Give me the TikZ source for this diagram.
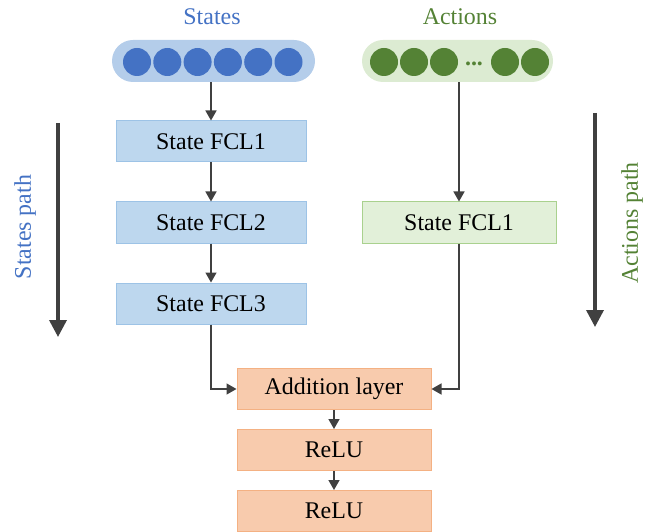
\documentclass[tikz,border=0pt]{standalone}
\usepackage{fontspec}
\setmainfont{Liberation Serif}
\usetikzlibrary{arrows.meta}
\definecolor{stblue}{HTML}{4472C4}
\definecolor{stpill}{HTML}{B4CDEA}
\definecolor{stbox}{HTML}{BDD7EE}
\definecolor{stline}{HTML}{9DC3E6}
\definecolor{acgreen}{HTML}{548235}
\definecolor{acpill}{HTML}{DCEBD2}
\definecolor{acbox}{HTML}{E2F0D9}
\definecolor{acline}{HTML}{A9D18E}
\definecolor{adfill}{HTML}{F8CBAD}
\definecolor{adline}{HTML}{F4B183}
\definecolor{arrgray}{HTML}{404040}
\tikzset{
  layer/.style={draw, line width=1bp, minimum width=190bp, minimum height=41bp, inner sep=0pt},
  pill/.style={rounded corners=21bp, minimum height=42bp, inner sep=0pt},
  unit/.style={circle, minimum size=28bp, inner sep=0pt},
  flow/.style={draw=arrgray, line width=1.5bp, -{Triangle[width=11bp,length=10bp]}},
  path arrow/.style={draw=arrgray, line width=3.5bp, -{Triangle[width=17bp,length=17bp]}},
}
\begin{document}
\begin{tikzpicture}[x=1bp, y=-1bp, font=\fontsize{24}{28}\selectfont]
    \useasboundingbox (0,0) rectangle (654,532);
    % inputs
    \node[text=stblue] (st) at (212,17) {States};
    \node[text=acgreen] (ac) at (460,17) {Actions};
    \node[pill, fill=stpill, minimum width=203bp] (stpill) at (213.5,61) {};
    \node[pill, fill=acpill, minimum width=191bp] (acpill) at (457.5,61) {};
    \foreach \i/\x in {1/137,2/167.3,3/197.6,4/227.9,5/258.2,6/288.5}
      \node[unit, fill=stblue] (s\i) at (\x,62) {};
    \foreach \i/\x in {1/384,2/414,3/444,4/505,5/535}
      \node[unit, fill=acgreen] (a\i) at (\x,62) {};
    \node[text=acgreen, inner sep=0pt, anchor=base] (adots) at (474,66) {\textbf{...}};
    % layers
    \node[layer, draw=stline, fill=stbox] (fcl1) at (211,141.5) {State FCL1};
    \node[layer, draw=stline, fill=stbox] (fcl2) at (211,222.5) {State FCL2};
    \node[layer, draw=stline, fill=stbox] (fcl3) at (211,303.5) {State FCL3};
    \node[layer, draw=acline, fill=acbox, minimum width=194bp] (afcl) at (459,222.5) {State FCL1};
    \node[layer, draw=adline, fill=adfill, minimum width=194bp] (add) at (334,389) {Addition layer};
    \node[layer, draw=adline, fill=adfill, minimum width=194bp] (relu1) at (334,450) {ReLU};
    \node[layer, draw=adline, fill=adfill, minimum width=194bp] (relu2) at (334,511) {ReLU};
    % connectors
    \draw[flow] (stpill.south -| fcl1) -- (fcl1);
    \draw[flow] (fcl1) -- (fcl2);
    \draw[flow] (fcl2) -- (fcl3);
    \draw[flow] (acpill.south -| afcl) -- (afcl);
    \draw[flow] (fcl3.south) |- (add.west);
    \draw[flow] (afcl.south) |- (add.east);
    \draw[flow] (add) -- (relu1);
    \draw[flow] (relu1) -- (relu2);
    % paths
    \coordinate (sp1) at (58,123);
    \coordinate (sp2) at (58,337);
    \coordinate (ap1) at (595,113);
    \coordinate (ap2) at (595,327);
    \draw[path arrow] (sp1) -- (sp2);
    \draw[path arrow] (ap1) -- (ap2);
    \node[text=stblue, rotate=90] (splabel) at (25,227) {States path};
    \node[text=acgreen, rotate=90] (aplabel) at (632,223) {Actions path};
\end{tikzpicture}
\end{document}
